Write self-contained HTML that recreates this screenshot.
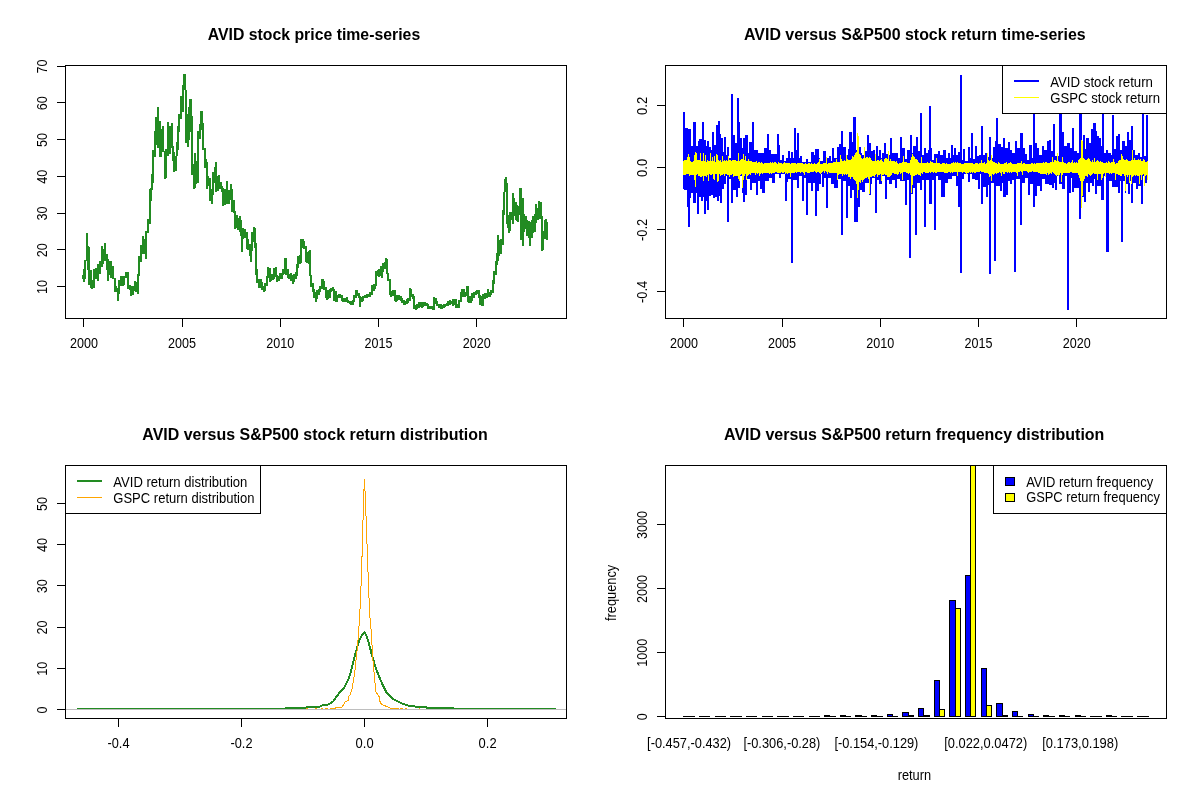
<!DOCTYPE html>
<html><head><meta charset="utf-8"><title>AVID versus S&amp;P500</title>
<style>
html,body{margin:0;padding:0;background:#fff;}
svg{display:block;}
text{font-family:"Liberation Sans",Arial,sans-serif;font-size:14px;fill:#000;}
text.t{font-size:15.94px;font-weight:bold;}
</style></head><body>
<svg width="1200" height="800" viewBox="0 0 1200 800" shape-rendering="crispEdges">
<rect width="1200" height="800" fill="#fff"/>
<path d="M82 275H84V279H82ZM83 269H85V282H83ZM84 260H86V279H84ZM86 233H88V261H86ZM87 246H89V270H87ZM88 247H90V285H88ZM90 270H92V288H90ZM91 280H93V289H91ZM93 269H95V288H93ZM95 268H97V279H95ZM97 264H99V281H97ZM99 261H101V274H99ZM101 246H103V267H101ZM102 249H104V264H102ZM104 243H106V261H104ZM106 254H108V270H106ZM107 259H109V281H107ZM109 261H111V275H109ZM110 261H112V278H110ZM112 266H114V279H112ZM114 278H116V292H114ZM115 286H117V292H115ZM117 288H119V301H117ZM118 280H120V294H118ZM120 276H122V286H120ZM122 276H124V286H122ZM123 276H125V285H123ZM125 272H127V278H125ZM127 272H129V289H127ZM129 285H131V290H129ZM130 286H132V296H130ZM132 286H134V295H132ZM134 281H136V291H134ZM135 282H137V292H135ZM137 274H139V294H137ZM138 256H140V276H138ZM140 245H142V262H140ZM142 236H144V254H142ZM144 239H146V254H144ZM145 231H147V259H145ZM147 219H149V233H147ZM149 189H151V224H149ZM150 188H152V201H150ZM151 174H153V190H151ZM152 150H154V183H152ZM154 131H156V157H154ZM155 117H157V145H155ZM157 107H159V148H157ZM159 121H161V157H159ZM160 129H162V157H160ZM162 126H164V152H162ZM164 151H166V179H164ZM165 149H167V178H165ZM167 122H169V156H167ZM169 126H171V154H169ZM171 123H173V148H171ZM172 146H174V161H172ZM173 152H175V172H173ZM175 156H177V171H175ZM176 142H178V156H176ZM177 126H179V150H177ZM178 114H180V132H178ZM180 96H182V119H180ZM182 85H184V112H182ZM183 74H185V90H183ZM184 74H186V90H184ZM185 90H187V143H185ZM187 114H189V147H187ZM188 107H190V140H188ZM189 99H192V132H189ZM191 116H193V175H191ZM193 164H195V189H193ZM194 153H196V188H194ZM195 161H197V184H195ZM197 131H199V183H197ZM199 124H201V139H199ZM200 111H203V130H200ZM202 123H204V150H202ZM204 148H206V168H204ZM205 159H207V168H205ZM206 162H208V189H206ZM207 176H209V186H207ZM209 178H211V201H209ZM211 189H213V204H211ZM212 172H214V195H212ZM214 167H216V183H214ZM215 162H217V192H215ZM217 176H219V191H217ZM218 175H220V189H218ZM220 182H222V189H220ZM221 186H223V192H221ZM222 188H224V206H222ZM224 189H226V205H224ZM226 181H228V204H226ZM227 194H229V204H227ZM228 190H230V204H228ZM230 184H232V200H230ZM231 189H233V212H231ZM233 200H235V213H233ZM234 211H236V229H234ZM236 215H238V228H236ZM237 218H239V230H237ZM239 216H241V232H239ZM240 220H242V236H240ZM241 228H243V252H241ZM242 228H244V239H242ZM244 229H246V238H244ZM246 232H248V249H246ZM247 239H249V250H247ZM249 244H251V256H249ZM250 249H252V262H250ZM251 232H253V251H251ZM253 227H255V242H253ZM254 228H256V248H254ZM255 243H257V275H255ZM256 269H258V283H256ZM258 279H260V288H258ZM260 279H262V288H260ZM261 282H263V290H261ZM263 286H265V292H263ZM264 283H266V291H264ZM266 276H268V286H266ZM267 267H269V278H267ZM269 268H271V282H269ZM270 274H272V281H270ZM272 274H274V280H272ZM273 268H275V279H273ZM275 267H277V277H275ZM276 275H278V282H276ZM278 276H280V281H278ZM279 273H281V279H279ZM281 273H283V279H281ZM282 269H284V275H282ZM284 258H286V274H284ZM285 258H287V275H285ZM287 269H289V278H287ZM288 274H290V279H288ZM290 273H292V281H290ZM292 275H294V284H292ZM293 274H295V282H293ZM295 272H297V279H295ZM296 264H298V276H296ZM297 256H299V268H297ZM299 255H301V264H299ZM300 239H302V263H300ZM302 239H304V248H302ZM303 241H305V249H303ZM305 246H307V262H305ZM306 252H308V263H306ZM308 251H310V264H308ZM309 250H311V276H309ZM310 275H312V287H310ZM312 283H314V292H312ZM313 289H315V298H313ZM315 292H317V302H315ZM316 290H318V299H316ZM318 289H320V295H318ZM319 286H321V292H319ZM321 279H323V289H321ZM322 279H324V287H322ZM323 281H325V290H323ZM325 287H327V298H325ZM326 293H328V300H326ZM327 290H329V299H327ZM329 289H331V298H329ZM330 288H332V292H330ZM332 287H334V291H332ZM333 289H335V301H333ZM335 291H337V302H335ZM336 295H338V302H336ZM338 294H340V298H338ZM339 294H341V298H339ZM341 295H343V301H341ZM342 298H344V302H342ZM344 298H346V302H344ZM346 297H348V302H346ZM347 300H349V303H347ZM349 301H351V304H349ZM350 301H352V305H350ZM352 300H354V305H352ZM353 295H355V302H353ZM355 290H357V298H355ZM356 290H358V296H356ZM358 293H360V298H358ZM359 296H361V307H359ZM361 297H363V302H361ZM362 296H364V301H362ZM364 295H366V298H364ZM366 294H368V298H366ZM367 294H369V297H367ZM369 292H371V297H369ZM371 285H373V295H371ZM373 284H375V291H373ZM374 284H376V289H374ZM375 271H377V286H375ZM377 270H379V276H377ZM378 269H380V277H378ZM380 266H382V276H380ZM381 266H383V278H381ZM382 263H384V272H382ZM384 262H386V269H384ZM385 258H387V269H385ZM386 259H388V274H386ZM387 273H389V281H387ZM389 279H391V295H389ZM390 291H392V297H390ZM392 290H394V296H392ZM394 290H396V301H394ZM395 296H397V302H395ZM396 295H398V301H396ZM398 295H400V300H398ZM400 296H402V301H400ZM401 298H403V303H401ZM403 300H405V305H403ZM404 301H406V305H404ZM406 299H408V304H406ZM407 298H409V303H407ZM409 288H411V301H409ZM410 289H412V297H410ZM412 294H414V299H412ZM413 296H415V309H413ZM415 305H417V310H415ZM416 304H418V309H416ZM418 302H420V308H418ZM419 302H421V307H419ZM421 302H423V308H421ZM422 302H424V307H422ZM424 302H426V306H424ZM426 303H428V306H426ZM427 304H429V309H427ZM429 306H431V309H429ZM430 306H432V309H430ZM432 306H434V310H432ZM433 297H435V310H433ZM435 298H437V304H435ZM436 301H438V306H436ZM438 304H440V308H438ZM440 304H442V309H440ZM441 305H443V309H441ZM443 304H445V308H443ZM444 304H446V307H444ZM446 303H448V306H446ZM447 301H449V306H447ZM449 300H451V305H449ZM451 301H453V304H451ZM452 299H454V306H452ZM454 299H456V305H454ZM455 299H457V308H455ZM457 304H459V308H457ZM458 300H460V308H458ZM460 292H462V302H460ZM461 289H463V297H461ZM463 289H465V297H463ZM464 292H466V297H464ZM466 286H468V296H466ZM467 286H469V302H467ZM468 296H470V303H468ZM470 296H472V303H470ZM471 293H473V301H471ZM473 292H475V298H473ZM475 291H477V295H475ZM476 290H478V294H476ZM478 290H480V298H478ZM479 295H481V305H479ZM481 296H483V306H481ZM482 294H484V306H482ZM484 293H486V299H484ZM486 293H488V298H486ZM487 289H489V297H487ZM489 292H491V297H489ZM490 290H492V295H490ZM492 280H494V293H492ZM493 271H495V284H493ZM495 261H497V275H495ZM496 253H498V265H496ZM497 235H499V261H497ZM498 240H500V256H498ZM500 239H502V254H500ZM502 210H504V245H502ZM503 192H505V215H503ZM504 179H506V192H504ZM505 177H507V192H505ZM506 183H508V224H506ZM507 215H509V228H507ZM508 216H510V233H508ZM509 212H511V231H509ZM510 212H512V220H510ZM512 193H514V224H512ZM513 198H515V216H513ZM515 202H517V220H515ZM516 205H518V221H516ZM517 206H519V222H517ZM519 188H521V215H519ZM520 188H522V240H520ZM522 198H524V246H522ZM523 214H525V232H523ZM525 216H527V229H525ZM526 220H528V236H526ZM528 221H530V238H528ZM529 222H531V246H529ZM531 220H533V238H531ZM532 216H534V233H532ZM534 214H536V232H534ZM535 204H537V223H535ZM537 208H539V220H537ZM538 201H540V219H538ZM540 202H542V219H540ZM541 216H543V251H541ZM542 231H544V250H542ZM544 220H546V239H544ZM545 219H547V239H545ZM546 222H548V240H546Z" fill="#228B22"/>
<rect x="65.5" y="65.5" width="501" height="253" fill="none" stroke="#000"/>
<text class="t" x="313.95" y="39.7" text-anchor="middle" textLength="212.5" lengthAdjust="spacingAndGlyphs">AVID stock price time-series</text>
<path d="M83.5 318.5H476.5M83.5 318.5v8.5M182.5 318.5v8.5M280.5 318.5v8.5M378.5 318.5v8.5M476.5 318.5v8.5" stroke="#000" fill="none"/>
<text x="83.9" y="347.8" text-anchor="middle" textLength="28" lengthAdjust="spacingAndGlyphs">2000</text>
<text x="182.1" y="347.8" text-anchor="middle" textLength="28" lengthAdjust="spacingAndGlyphs">2005</text>
<text x="280.3" y="347.8" text-anchor="middle" textLength="28" lengthAdjust="spacingAndGlyphs">2010</text>
<text x="378.5" y="347.8" text-anchor="middle" textLength="28" lengthAdjust="spacingAndGlyphs">2015</text>
<text x="476.7" y="347.8" text-anchor="middle" textLength="28" lengthAdjust="spacingAndGlyphs">2020</text>
<path d="M65.5 66.5V286.5M65.5 286.5h-8.5M65.5 249.5h-8.5M65.5 213.5h-8.5M65.5 176.5h-8.5M65.5 139.5h-8.5M65.5 102.5h-8.5M65.5 66.5h-8.5" stroke="#000" fill="none"/>
<text transform="translate(46.9 287) rotate(-90)" text-anchor="middle" textLength="14" lengthAdjust="spacingAndGlyphs">10</text>
<text transform="translate(46.9 250.25) rotate(-90)" text-anchor="middle" textLength="14" lengthAdjust="spacingAndGlyphs">20</text>
<text transform="translate(46.9 213.5) rotate(-90)" text-anchor="middle" textLength="14" lengthAdjust="spacingAndGlyphs">30</text>
<text transform="translate(46.9 176.75) rotate(-90)" text-anchor="middle" textLength="14" lengthAdjust="spacingAndGlyphs">40</text>
<text transform="translate(46.9 140) rotate(-90)" text-anchor="middle" textLength="14" lengthAdjust="spacingAndGlyphs">50</text>
<text transform="translate(46.9 103.25) rotate(-90)" text-anchor="middle" textLength="14" lengthAdjust="spacingAndGlyphs">60</text>
<text transform="translate(46.9 66.5) rotate(-90)" text-anchor="middle" textLength="14" lengthAdjust="spacingAndGlyphs">70</text>
<path d="M683 167.4V112.25H684V112.25H685V127.5H686V127.5H687V127.5H688V129.38H689V129.38H690V129.38H691V146.25H692V146.25H693V122.25H694V122.25H695V122.25H696V146.25H697V146.25H698V140.62H699V139.38H700V139.38H701V139.38H702V122.25H703V122.25H704V140H705V140H706V146.25H707V141H708V141H709V146.88H710V146.88H711V150H712V132.25H713V132.25H714V145H715V145H716V125H717V125H718V121.25H719V121.25H720V134.38H721V137.5H722V137.5H723V151.88H724V137.25H725V137.25H726V155H727V147.25H728V147.25H729V157.5H730V157.5H731V94.38H732V94.38H733V135.25H734V135.25H735V143.12H736V143.12H737V98.12H738V98.12H739V122.25H740V138.12H741V138.12H742V147.5H743V138.12H744V138.12H745V135.25H746V135.25H747V135.25H748V152.5H749V141.88H750V141.88H751V141.88H752V122.25H753V122.25H754V150.25H755V150.25H756V150.25H757V150.25H758V153.12H759V153.12H760V153.12H761V153.12H762V153.12H763V153.12H764V148.12H765V148.12H766V148.12H767V134H768V134H769V150H770V150H771V154.38H772V154.38H773V154.38H774V154.38H775V154.38H776V154.38H777V134H778V134H779V145H780V160H781V160H782V155H783V155H784V161.25H785V161.25H786V158.12H787V158.12H788V151.25H789V151.25H790V158.12H791V152.25H792V152.25H793V158.12H794V128.12H795V128.12H796V150H797V133.12H798V133.12H799V158.12H800V156.25H801V156.25H802V161.88H803V161.88H804V161.88H805V161.88H806V159.38H807V159.38H808V161.88H809V161.88H810V161.88H811V152.25H812V152.25H813V152.25H814V155H815V149.38H816V149.38H817V149.38H818V149.38H819V158.12H820V161.25H821V161.25H822V161.25H823V150.62H824V150.62H825V150.62H826V158.12H827V158.12H828V158.12H829V156.25H830V156.25H831V161.25H832V148.12H833V148.12H834V158.12H835V158.12H836V158.12H837V147.25H838V147.25H839V144.38H840V144.38H841V131.25H842V131.25H843V147.25H844V147.25H845V147.25H846V155H847V155H848V149.38H849V132.25H850V132.25H851V132.25H852V141.88H853V117.25H854V117.25H855V117.25H856V150H857V150H858V150H859V147.25H860V147.25H861V152.5H862V155H863V155H864V155H865V151.25H866V151.25H867V135.25H868V135.25H869V142.5H870V142.5H871V151.25H872V151.25H873V150H874V150H875V156.25H876V146.25H877V146.25H878V156.25H879V150H880V150H881V158.12H882V153.12H883V153.12H884V143.12H885V143.12H886V153.75H887V153.75H888V153.75H889V155H890V138.12H891V138.12H892V153.12H893V153.12H894V153.12H895V153.12H896V153.12H897V153.12H898V158.12H899V158.12H900V137.25H901V137.25H902V147.5H903V147.5H904V147.5H905V159.38H906V159.38H907V150.25H908V150.25H909V150.25H910V135.25H911V135.25H912V153.12H913V146.25H914V146.25H915V146.25H916V137.25H917V137.25H918V150.62H919V150.62H920V113.12H921V113.12H922V155H923V155H924V148.12H925V148.12H926V153.12H927V153.12H928V150H929V106.25H930V106.25H931V148.12H932V160H933V160H934V154.38H935V154.38H936V154.38H937V154.38H938V151.25H939V151.25H940V155H941V155H942V155H943V150.25H944V150.25H945V150.25H946V158.12H947V158.12H948V153.12H949V153.12H950V158.12H951V145H952V145H953V155H954V148.12H955V148.12H956V155H957V155H958V152.25H959V152.25H960V74.75H961V74.75H962V160H963V149.38H964V149.38H965V161.25H966V161.25H967V161.25H968V147.25H969V147.25H970V158.12H971V133.12H972V133.12H973V158.75H974V158.75H975V146.25H976V146.25H977V156.25H978V156.25H979V155H980V155H981V126.25H982V126.25H983V155H984V155H985V153.12H986V153.12H987V156.88H988V156.88H989V137.25H990V137.25H991V158.12H992V158.12H993V147.25H994V147.25H995V141.25H996V118.12H997V118.12H998V144.38H999V144.38H1000V144.38H1001V147.25H1002V147.25H1003V138.12H1004V138.12H1005V148.12H1006V148.12H1007V148.12H1008V142.25H1009V142.25H1010V150H1011V150H1012V153.12H1013V153.12H1014V153.12H1015V141.25H1016V141.25H1017V148.12H1018V148.12H1019V148.12H1020V133.12H1021V133.12H1022V133.12H1023V148.12H1024V148.12H1025V154.38H1026V154.38H1027V160H1028V160H1029V145.25H1030V145.25H1031V145.25H1032V158.12H1033V102.5H1034V102.5H1035V143.12H1036V143.12H1037V148.12H1038V148.12H1039V155H1040V155H1041V155H1042V146.25H1043V146.25H1044V150H1045V150H1046V150H1047V141.25H1048V141.25H1049V140H1050V140H1051V151.25H1052V151.25H1053V124H1054V124H1055V156.25H1056V156.25H1057V156.25H1058V156.25H1059V105H1060V105H1061V105H1062V132.25H1063V132.25H1064V146.25H1065V146.25H1066V146.25H1067V143.12H1068V143.12H1069V143.12H1070V148.12H1071V148.12H1072V128.12H1073V128.12H1074V150.62H1075V150.62H1076V150.62H1077V152.5H1078V152.5H1079V97.5H1080V97.5H1081V97.5H1082V150H1083V135.25H1084V135.25H1085V148.75H1086V138.12H1087V138.12H1088V138.12H1089V143.12H1090V143.12H1091V129.38H1092V129.38H1093V123.12H1094V123.12H1095V123.12H1096V131.25H1097V135.62H1098V135.62H1099V138.12H1100V138.12H1101V146.25H1102V106.25H1103V106.25H1104V153.12H1105V153.12H1106V150H1107V150H1108V153.12H1109V153.12H1110V153.12H1111V155H1112V115H1113V115H1114V149.38H1115V149.38H1116V136H1117V136H1118V133.75H1119V133.75H1120V150H1121V150H1122V140.62H1123V140.62H1124V140.62H1125V145.62H1126V145.62H1127V132.25H1128V132.25H1129V140H1130V140H1131V126.25H1132V126.25H1133V150H1134V150H1135V155H1136V155H1137V155H1138V153.12H1139V153.12H1140V156.88H1141V156.88H1142V108.75H1143V108.75H1144V156.25H1145V156.25H1146V115H1147V115H1148V167.4V176.25H1147V182.5H1146V182.5H1145V176.25H1144V176.25H1143V203.75H1142V203.75H1141V185.62H1140V185.62H1139V185.62H1138V188.75H1137V188.75H1136V182.5H1135V182.5H1134V182.5H1133V202.75H1132V202.75H1131V180.62H1130V193.75H1129V193.75H1128V183.75H1127V183.75H1126V193.12H1125V180.62H1124V180.62H1123V241.88H1122V241.88H1121V180.62H1120V192.75H1119V192.75H1118V186.88H1117V186.88H1116V186.88H1115V186.88H1114V186.88H1113V186.88H1112V180.62H1111V180.62H1110V180.62H1109V251.88H1108V251.88H1107V251.88H1106V176.25H1105V176.25H1104V199.75H1103V199.75H1102V199.75H1101V185.62H1100V185.62H1099V185.62H1098V185.62H1097V193.75H1096V193.75H1095V178.75H1094V185.62H1093V185.62H1092V182.5H1091V182.5H1090V191.88H1089V191.88H1088V182.5H1087V182.5H1086V201.88H1085V201.88H1084V196.88H1083V196.88H1082V196.88H1081V218.75H1080V218.75H1079V187.5H1078V187.5H1077V187.5H1076V187.5H1075V187.5H1074V191.88H1073V191.88H1072V177.5H1071V192.75H1070V192.75H1069V309.75H1068V309.75H1067V176.25H1066V176.25H1065V188.75H1064V188.75H1063V188.75H1062V184.38H1061V184.38H1060V184.38H1059V176.25H1058V176.25H1057V189.75H1056V189.75H1055V182.5H1054V187.75H1053V187.75H1052V185H1051V185H1050V185H1049V183.75H1048V183.75H1047V183.75H1046V183.75H1045V178.75H1044V178.75H1043V178.75H1042V190.62H1041V190.62H1040V185.62H1039V185.62H1038V185.62H1037V195.62H1036V195.62H1035V206.88H1034V206.88H1033V184.38H1032V184.38H1031V184.38H1030V194.75H1029V194.75H1028V177.5H1027V177.5H1026V177.5H1025V182.5H1024V182.5H1023V182.5H1022V224.75H1021V224.75H1020V178.75H1019V178.75H1018V178.75H1017V178.75H1016V271.88H1015V271.88H1014V180H1013V180H1012V183.75H1011V183.75H1010V181.25H1009V181.25H1008V194.75H1007V194.75H1006V196.88H1005V196.88H1004V196.88H1003V182.5H1002V190.62H1001V190.62H1000V185.62H999V185.62H998V185.62H997V185.62H996V260.62H995V260.62H994V182.5H993V182.5H992V182.5H991V273.75H990V273.75H989V185H988V196.88H987V196.88H986V186.88H985V186.88H984V186.88H983V203.75H982V203.75H981V173.75H980V188.75H979V188.75H978V180H977V180H976V180H975V178.75H974V178.75H973V178.75H972V173.75H971V173.75H970V181.88H969V181.88H968V173.75H967V173.75H966V173.75H965V173.75H964V179.38H963V179.38H962V272.75H961V272.75H960V206.88H959V206.88H958V185.62H957V185.62H956V176.25H955V176.25H954V176.25H953V176.25H952V179.38H951V179.38H950V179.38H949V179.38H948V182.5H947V182.5H946V182.5H945V196.88H944V196.88H943V196.88H942V196.88H941V180H940V180H939V180H938V176.25H937V176.25H936V229.75H935V229.75H934V180H933V180H932V203.75H931V203.75H930V203.75H929V180H928V180H927V180H926V226.88H925V226.88H924V180H923V180H922V189.75H921V189.75H920V182.5H919V182.5H918V182.5H917V234.75H916V234.75H915V187.5H914V187.5H913V193.75H912V193.75H911V257.75H910V257.75H909V180H908V180H907V204.75H906V204.75H905V181.25H904V181.25H903V181.25H902V181.25H901V181.25H900V178.75H899V178.75H898V178.75H897V187.75H896V187.75H895V180H894V180H893V180H892V183.75H891V183.75H890V183.75H889V180H888V180H887V198.75H886V198.75H885V176.25H884V176.25H883V176.25H882V183.75H881V183.75H880V183.75H879V180H878V180H877V212.5H876V212.5H875V177.5H874V177.5H873V177.5H872V183.75H871V194.75H870V194.75H869V182.5H868V182.5H867V182.5H866V182.5H865V191.88H864V191.88H863V191.88H862V190H861V190H860V207.25H859V207.25H858V221.5H857V221.5H856V221.5H855V221.5H854V190H853V190H852V197.5H851V197.5H850V185.62H849V185.62H848V217.75H847V217.75H846V180.62H845V180.62H844V180.62H843V234.75H842V234.75H841V178.75H840V178.75H839V178.75H838V187.75H837V187.75H836V187.75H835V187.75H834V183.75H833V183.75H832V183.75H831V177.5H830V177.5H829V177.5H828V207.75H827V207.75H826V177.5H825V177.5H824V186.88H823V186.88H822V173.75H821V183.75H820V183.75H819V191.25H818V191.25H817V215.62H816V215.62H815V182.5H814V182.5H813V191.25H812V191.25H811V182.5H810V182.5H809V182.5H808V214.75H807V214.75H806V177.5H805V177.5H804V200.62H803V200.62H802V176.25H801V176.25H800V176.25H799V187.75H798V187.75H797V180H796V180H795V180H794V180H793V263.25H792V263.25H791V178.75H790V178.75H789V178.75H788V181.88H787V200.62H786V200.62H785V173.75H784V173.75H783V173.75H782V173.75H781V177.5H780V177.5H779V173.75H778V173.75H777V173.75H776V173.75H775V182.75H774V182.75H773V182.75H772V177.5H771V177.5H770V177.5H769V180.62H768V180.62H767V180.62H766V180.62H765V192.75H764V192.75H763V192.75H762V188.75H761V188.75H760V180.62H759V180.62H758V194.75H757V194.75H756V183.12H755V183.12H754V183.12H753V183.12H752V189.75H751V189.75H750V178.75H749V178.75H748V178.75H747V194.75H746V194.75H745V201.88H744V201.88H743V193.12H742V176.25H741V176.25H740V187.5H739V187.5H738V196.88H737V196.88H736V190H735V190H734V190H733V202.5H732V202.5H731V178.75H730V178.75H729V221.88H728V221.88H727V176.25H726V183.75H725V183.75H724V188.75H723V188.75H722V202.75H721V202.75H720V196.25H719V200.62H718V200.62H717V196.88H716V196.88H715V197.5H714V197.5H713V195H712V195H711V196.25H710V196.25H709V209.75H708V209.75H707V200.62H706V213.75H705V213.75H704V196.88H703V200.62H702V200.62H701V196.88H700V196.88H699V213.75H698V213.75H697V193.12H696V202.5H695V202.5H694V202.5H693V193.12H692V193.12H691V197.5H690V226.88H689V226.88H688V206.88H687V190H686V190H685V190H684V188.75H683Z" fill="#0000FF" shape-rendering="crispEdges"/>
<path d="M683 167.4V161.43H684V160.36H685V160.4H686V160.49H687V157.27H688V153.5H689V156.81H690V161.03H691V161.91H692V162.25H693V160.91H694V155.24H695V152H696V153.29H697V159.66H698V159.64H699V159.93H700V152.83H701V160.64H702V161.22H703V153H704V161.48H705V155.43H706V161.93H707V160.44H708V161.22H709V160.77H710V153.18H711V160.56H712V157.41H713V160.95H714V155.87H715V162.17H716V153.7H717V155H718V160.37H719V160.94H720V159.83H721V161.69H722V155.83H723V161.39H724V160.24H725V160.98H726V160.21H727V161.01H728V155.68H729V159.54H730V160.15H731V160.55H732V159.5H733V159.84H734V159.51H735V160.32H736V160.63H737V161.42H738V152.54H739V160.95H740V160.38H741V158.99H742V159.3H743V153.57H744V159.63H745V156.45H746V161.37H747V161.17H748V159.16H749V161.23H750V161.27H751V160.92H752V162.31H753V162.39H754V161.62H755V161.53H756V161.13H757V162.58H758V162.07H759V161.64H760V162.94H761V162.15H762V162.52H763V163.67H764V162.56H765V162.98H766V163.31H767V162.53H768V163H769V163.25H770V161.79H771V162.51H772V162.33H773V162.74H774V162.14H775V162.4H776V162.98H777V163.55H778V162.47H779V162.56H780V162.77H781V163.44H782V163.78H783V163.34H784V162.35H785V162.65H786V163.08H787V163.29H788V162.68H789V163.11H790V163.62H791V163.03H792V163.03H793V163.08H794V163.36H795V163.09H796V163.54H797V163.24H798V162.5H799V162.8H800V163.09H801V163.2H802V163.01H803V164.07H804V163.89H805V162.83H806V164.13H807V164.39H808V163.22H809V163.04H810V163.6H811V163.27H812V164.48H813V164.45H814V163.18H815V163.87H816V163.59H817V163.1H818V162.35H819V159.03H820V164H821V163.63H822V163.86H823V162.81H824V163.03H825V163.02H826V157.25H827V163.56H828V162.99H829V162.92H830V163.14H831V162.52H832V163.15H833V162.48H834V162.41H835V162.34H836V159.37H837V161.78H838V162.01H839V161.92H840V155.09H841V158.82H842V160.54H843V161.02H844V159.8H845V160.72H846V155.41H847V159.34H848V160.11H849V159.92H850V160.19H851V158.71H852V155.95H853V157.34H854V155.21H855V152.67H856V152.04H857V133H858V136H859V154.16H860V154.89H861V158.41H862V159.15H863V157.95H864V146.5H865V157.94H866V157.05H867V157.31H868V158.11H869V157.33H870V158.36H871V159.85H872V160.98H873V160.75H874V161.1H875V153.77H876V160.67H877V159.66H878V159.61H879V160.67H880V159.99H881V159.46H882V161.36H883V161.64H884V159.13H885V157.78H886V157.71H887V159H888V150.6H889V160.64H890V158.98H891V161.35H892V161.05H893V161.18H894V161.14H895V161.85H896V161.03H897V162.92H898V163.66H899V162.85H900V162.66H901V162.83H902V161.98H903V155.97H904V162.22H905V162.03H906V162H907V162.59H908V162.8H909V163.03H910V159.78H911V156.57H912V153.8H913V155.86H914V157.49H915V158.88H916V158.97H917V160.42H918V161.98H919V162.76H920V162.76H921V156.73H922V162.86H923V162.83H924V162.83H925V163.28H926V162.6H927V161.99H928V162.6H929V162.92H930V161.42H931V162.12H932V161.85H933V163.28H934V163.44H935V163.02H936V157.98H937V163.48H938V163.37H939V162.62H940V163.64H941V163.61H942V163.46H943V163.46H944V162.7H945V163.67H946V162.91H947V163.65H948V163.73H949V163.63H950V163.85H951V162.76H952V163.42H953V162.21H954V163.37H955V162.34H956V162.57H957V162.3H958V163.26H959V163.47H960V163.47H961V163.59H962V163.55H963V163.55H964V163.06H965V163.28H966V163.12H967V162.73H968V163.04H969V162.98H970V163.47H971V163.27H972V163.08H973V163.78H974V163.9H975V162.99H976V163.14H977V163.38H978V163.75H979V163.23H980V162.71H981V160.41H982V163.16H983V163.35H984V162.39H985V163.65H986V162.76H987V152.7H988V160.22H989V161.13H990V159.69H991V155H992V160.8H993V161.64H994V161.91H995V163H996V163.08H997V163.57H998V162.36H999V163.14H1000V163.7H1001V163.53H1002V163.62H1003V163.71H1004V162.94H1005V163.11H1006V162.25H1007V163.76H1008V163.07H1009V163.36H1010V162.45H1011V162.83H1012V163.8H1013V163.79H1014V163.66H1015V163.96H1016V163.78H1017V163.21H1018V163.26H1019V162.81H1020V163.07H1021V161.4H1022V164H1023V163.34H1024V162.9H1025V163.94H1026V164.31H1027V164.44H1028V164.22H1029V163.67H1030V164.07H1031V162.84H1032V162.94H1033V163.64H1034V162.87H1035V163.96H1036V163.06H1037V163.42H1038V162.66H1039V163.13H1040V163H1041V162.72H1042V162.89H1043V161.91H1044V162.51H1045V162.45H1046V162.4H1047V162.94H1048V163.01H1049V163.03H1050V162.44H1051V162H1052V156.95H1053V161.89H1054V160.01H1055V159.87H1056V160.89H1057V152.5H1058V160.81H1059V161.64H1060V161.76H1061V162.14H1062V156.79H1063V161.85H1064V162.77H1065V162.53H1066V163.66H1067V163.42H1068V162H1069V161.97H1070V162.59H1071V161.92H1072V159.66H1073V162.59H1074V162.2H1075V162.62H1076V162.1H1077V162.83H1078V160.35H1079V159.04H1080V157.86H1081V139.5H1082V141H1083V158.37H1084V158.84H1085V159.93H1086V159.87H1087V158.83H1088V157.99H1089V159.18H1090V161.05H1091V161.88H1092V160.35H1093V161.87H1094V157.9H1095V162.22H1096V161.28H1097V160.16H1098V160.92H1099V161.67H1100V161.42H1101V161.7H1102V161.87H1103V162.6H1104V162.6H1105V162.8H1106V161.55H1107V162.5H1108V160.79H1109V161.69H1110V162.87H1111V161.88H1112V162.24H1113V159.3H1114V161.82H1115V163.58H1116V162.95H1117V162.59H1118V161.16H1119V159.74H1120V160.47H1121V153.75H1122V155.89H1123V159.43H1124V160.09H1125V159.52H1126V159.17H1127V159.85H1128V160.76H1129V160.53H1130V160.77H1131V159.58H1132V150H1133V159.57H1134V158.4H1135V159.64H1136V159.87H1137V160.03H1138V159.27H1139V159.93H1140V159.45H1141V160.73H1142V160.93H1143V159.29H1144V160.01H1145V161.71H1146V162.26H1147V161.42H1148V167.4V179.87H1147V175.31H1146V176.35H1145V185.62H1144V174.13H1143V174.5H1142V179.89H1141V175.03H1140V183.68H1139V176.31H1138V176.11H1137V174.68H1136V176.03H1135V175.15H1134V175.61H1133V177H1132V183.8H1131V174.84H1130V183.16H1129V175.24H1128V177.17H1127V175.07H1126V190.75H1125V176.14H1124V174.22H1123V174.04H1122V175.56H1121V175.91H1120V174.51H1119V174.76H1118V173.93H1117V173.51H1116V180.24H1115V173.06H1114V173.46H1113V173.49H1112V173.91H1111V172.82H1110V174.16H1109V173H1108V173.4H1107V172.93H1106V176.9H1105V173.48H1104V173.5H1103V178.22H1102V179.69H1101V174.01H1100V173.8H1099V174.09H1098V179.81H1097V173.59H1096V174.28H1095V173.6H1094V173.31H1093V173.68H1092V175.22H1091V175.84H1090V175.32H1089V173.9H1088V176.51H1087V176.46H1086V176.2H1085V179.09H1084V180.76H1083V196H1082V208H1081V181.12H1080V177.75H1079V174.83H1078V173.18H1077V173.02H1076V172.75H1075V173.37H1074V172.51H1073V173.35H1072V171.96H1071V172.02H1070V172.5H1069V173.45H1068V172.67H1067V172.59H1066V173.12H1065V172.72H1064V173.12H1063V174.54H1062V181.72H1061V173.4H1060V174.66H1059V176.03H1058V175.4H1057V175.7H1056V175.46H1055V174.36H1054V173.37H1053V172.17H1052V173.93H1051V172.91H1050V173.66H1049V174.73H1048V173.48H1047V174.57H1046V174.42H1045V173.54H1044V174.46H1043V174.16H1042V174.18H1041V173.83H1040V172.61H1039V172.61H1038V171.81H1037V171.95H1036V172.37H1035V171.66H1034V171.56H1033V171.27H1032V172.08H1031V171.83H1030V172.45H1029V173H1028V171.82H1027V171.22H1026V171.09H1025V171.02H1024V171.42H1023V174.53H1022V172.09H1021V171.48H1020V171.64H1019V171.9H1018V175.99H1017V172.8H1016V171.97H1015V172.4H1014V172.4H1013V172.48H1012V172.52H1011V172.3H1010V173.14H1009V172.41H1008V172.53H1007V172.13H1006V172.32H1005V173.57H1004V173.74H1003V172.27H1002V176.49H1001V173.02H1000V172.49H999V173.02H998V172.84H997V173.92H996V172.71H995V174.05H994V174.76H993V173.72H992V180.6H991V175.77H990V176.61H989V174.05H988V173.1H987V173.23H986V172.86H985V172.52H984V171.74H983V172.13H982V171.63H981V171.39H980V172.38H979V172.46H978V171.89H977V172.37H976V172.63H975V172.7H974V172.33H973V172.88H972V172.16H971V172.69H970V171.67H969V173.08H968V172.5H967V174.44H966V172.73H965V172.29H964V171.72H963V173H962V171.97H961V172.14H960V172.14H959V171.52H958V175.75H957V171.76H956V171.96H955V172.45H954V172.37H953V172.61H952V172.29H951V172.97H950V172.21H949V172.05H948V172.77H947V172.98H946V173.37H945V173.13H944V172.46H943V171.89H942V171.65H941V171.69H940V171.89H939V171.97H938V172.16H937V172.68H936V173.31H935V172.22H934V172.86H933V172.09H932V171.71H931V172.79H930V172.41H929V172.67H928V172.88H927V173.06H926V172.72H925V172.36H924V172.33H923V173.7H922V172.85H921V176.28H920V175.28H919V174.85H918V174.36H917V174.88H916V175.1H915V176.05H914V176.4H913V185H912V193H911V174.8H910V173.07H909V173.51H908V173.03H907V172.82H906V172.45H905V172.43H904V172.26H903V180.17H902V172.94H901V174.03H900V172.34H899V174.2H898V174.72H897V174H896V173.92H895V174.05H894V172.82H893V173.26H892V174.87H891V175.98H890V177.07H889V177.24H888V176.96H887V174.75H886V175.14H885V173.64H884V175.19H883V175.23H882V180.83H881V174.11H880V175.4H879V175.1H878V177.13H877V174.21H876V174.82H875V176.77H874V176.36H873V175.86H872V177.38H871V176.88H870V194.03H869V178.57H868V177.34H867V178.22H866V177.76H865V179.08H864V180.29H863V182.05H862V180.39H861V182.54H860V182.21H859V190H858V197.5H857V184.25H856V181.09H855V179.72H854V178.64H853V177.4H852V176.73H851V178.68H850V176.88H849V176.94H848V174.26H847V175.17H846V174.14H845V175.37H844V174.39H843V175.68H842V173.73H841V173.91H840V173.6H839V175.19H838V180.03H837V173.25H836V173.21H835V172.88H834V172.86H833V172.63H832V173.14H831V173.28H830V172.78H829V172.17H828V173.56H827V172.27H826V171.44H825V172.73H824V171.46H823V171.9H822V172.82H821V173.52H820V173.46H819V172.14H818V171.99H817V173.31H816V172.41H815V171.3H814V171.77H813V172.02H812V172.2H811V172.32H810V172.63H809V172.69H808V173.39H807V172.31H806V172.45H805V174.67H804V172.55H803V172.11H802V171.99H801V172.51H800V171.69H799V172.24H798V172.3H797V172.85H796V172.28H795V172.9H794V172.85H793V173.32H792V173.37H791V177.36H790V172.67H789V172.71H788V173.92H787V173.05H786V173.51H785V171.88H784V172.75H783V172.58H782V172.45H781V173.16H780V172.77H779V173.2H778V172.74H777V172.07H776V172.04H775V172.65H774V172.5H773V172.68H772V173.57H771V172.59H770V173.62H769V172.9H768V172.76H767V173.25H766V172.68H765V172.86H764V172.8H763V173.71H762V172.9H761V173.97H760V176.18H759V172.62H758V173.57H757V173.05H756V174.61H755V173.22H754V172.92H753V172.59H752V173.4H751V174.68H750V174.34H749V174.63H748V175.57H747V179.97H746V174.27H745V176.13H744V180.36H743V188.2H742V174.32H741V175.24H740V180.97H739V178.69H738V175.76H737V175.63H736V175.84H735V175.5H734V177.3H733V174.21H732V175.25H731V175.22H730V176.57H729V174.98H728V175.21H727V174.2H726V173.75H725V175.58H724V173.98H723V175.41H722V174.82H721V175.71H720V174.44H719V181.14H718V182H717V173.77H716V174.29H715V179.62H714V179.12H713V173.85H712V175.39H711V174.86H710V174.39H709V181H708V174.9H707V176.51H706V175.81H705V176.25H704V181H703V175.73H702V176.75H701V176.67H700V176.26H699V175.51H698V173.51H697V174.52H696V187H695V180.33H694V175.43H693V175.32H692V175.49H691V174.95H690V175.8H689V173.95H688V174.13H687V174.46H686V174.6H685V175.19H684V174.52H683Z" fill="#FFFF00" shape-rendering="crispEdges"/>
<rect x="1002.5" y="65.5" width="164" height="48" fill="#fff" stroke="#000"/>
<path d="M1014 81H1039" stroke="#0000FF" stroke-width="2"/>
<path d="M1014 97.5H1039" stroke="#FFFF00" stroke-width="1"/>
<text x="1050.2" y="86.7" textLength="102.8" lengthAdjust="spacingAndGlyphs">AVID stock return</text>
<text x="1050.2" y="102.5" textLength="109.8" lengthAdjust="spacingAndGlyphs">GSPC stock return</text>
<rect x="665.5" y="65.5" width="501" height="253" fill="none" stroke="#000"/>
<text class="t" x="914.85" y="39.7" text-anchor="middle" textLength="341.7" lengthAdjust="spacingAndGlyphs">AVID versus S&amp;P500 stock return time-series</text>
<path d="M683.5 318.5H1076.5M683.5 318.5v8.5M782.5 318.5v8.5M880.5 318.5v8.5M978.5 318.5v8.5M1076.5 318.5v8.5" stroke="#000" fill="none"/>
<text x="683.9" y="347.8" text-anchor="middle" textLength="28" lengthAdjust="spacingAndGlyphs">2000</text>
<text x="782.1" y="347.8" text-anchor="middle" textLength="28" lengthAdjust="spacingAndGlyphs">2005</text>
<text x="880.3" y="347.8" text-anchor="middle" textLength="28" lengthAdjust="spacingAndGlyphs">2010</text>
<text x="978.5" y="347.8" text-anchor="middle" textLength="28" lengthAdjust="spacingAndGlyphs">2015</text>
<text x="1076.7" y="347.8" text-anchor="middle" textLength="28" lengthAdjust="spacingAndGlyphs">2020</text>
<path d="M665.5 105.5V291.5M665.5 105.5h-8.5M665.5 167.5h-8.5M665.5 229.5h-8.5M665.5 291.5h-8.5" stroke="#000" fill="none"/>
<text transform="translate(646.9 105.88) rotate(-90)" text-anchor="middle" textLength="18" lengthAdjust="spacingAndGlyphs">0.2</text>
<text transform="translate(646.9 167.9) rotate(-90)" text-anchor="middle" textLength="18" lengthAdjust="spacingAndGlyphs">0.0</text>
<text transform="translate(646.9 229.92) rotate(-90)" text-anchor="middle" textLength="22" lengthAdjust="spacingAndGlyphs">-0.2</text>
<text transform="translate(646.9 291.94) rotate(-90)" text-anchor="middle" textLength="22" lengthAdjust="spacingAndGlyphs">-0.4</text>
<polyline points="78,709 284.5,709 285.5,708 305,708 306.25,707.4 320,706.5 322.5,705.25 327.5,704.75 330,703.5 333.1,701.5 336.25,696.9 340,691.9 344.4,687.5 347.5,681.25 350,675 352.5,665 355,655 357.5,646.25 360,638.75 362.5,634 364.75,632.5 366.25,635.6 368.1,640.6 370,647.5 371.9,655 373.75,661.25 376.25,669.4 380,678.75 383.1,685.6 386.25,691.9 390,696.25 393.75,699.4 397.5,701.25 402.5,703.75 407.5,705.4 415,706.5 420,707.25 426.25,707.3 427.5,708 453.5,708 454.5,709 555.2,709" fill="none" stroke="#228B22" stroke-width="2" stroke-linejoin="round" stroke-linecap="round"/>
<polyline points="329.75,708.5 335.4,708.5 335.6,707.5 341.75,707.5 343.25,705.25 345.5,701.5 348.1,700.4 348.5,696.25 350.4,694.75 351.1,691.75 352.25,688.75 352.6,685 353.4,681.25 354.1,676 354.9,671.5 355.6,663.75 356.9,652.5 358.1,638.75 358.75,628.75 359.4,621 360.4,602 361.4,577 362.4,544 363.4,505 364.4,479 365.4,498 366.4,527 367.4,554 368.4,583 369.4,608 370.4,624 371.25,631.25 371.9,642.5 372.5,653.75 373.1,662.5 373.6,670 374.4,674.5 374.75,681.25 375.5,686.5 375.9,691.75 377.75,694.75 379.25,697 380,701.5 381.1,703.75 383,705.25 385.25,705.6 386.4,706.9 389,707.1 390.9,708.5 399,708.5" fill="none" stroke="#FFA500" stroke-width="1" stroke-linejoin="round"/>
<path d="M306 708.5h1.5M315 708.5h2M321 708.5h1.5M325 708.5h2.5M400 708.5h3M405 708.5h2M419 708.5h1" stroke="#FFA500" fill="none"/>
<path d="M65.5 709.5H566.5" stroke="#BEBEBE" fill="none"/>
<rect x="65.5" y="465.5" width="195" height="48" fill="#fff" stroke="#000"/>
<path d="M77 481H102" stroke="#228B22" stroke-width="2"/>
<path d="M77 497.5H102" stroke="#FFA500" stroke-width="1"/>
<text x="113.3" y="486.6" textLength="134.1" lengthAdjust="spacingAndGlyphs">AVID return distribution</text>
<text x="113.3" y="502.6" textLength="141.1" lengthAdjust="spacingAndGlyphs">GSPC return distribution</text>
<rect x="65.5" y="465.5" width="501" height="253" fill="none" stroke="#000"/>
<text class="t" x="315" y="439.7" text-anchor="middle" textLength="345.4" lengthAdjust="spacingAndGlyphs">AVID versus S&amp;P500 stock return distribution</text>
<path d="M118.5 718.5H487.5M118.5 718.5v8.5M241.5 718.5v8.5M364.5 718.5v8.5M487.5 718.5v8.5" stroke="#000" fill="none"/>
<text x="118.5" y="747.8" text-anchor="middle" textLength="22" lengthAdjust="spacingAndGlyphs">-0.4</text>
<text x="241.5" y="747.8" text-anchor="middle" textLength="22" lengthAdjust="spacingAndGlyphs">-0.2</text>
<text x="364.6" y="747.8" text-anchor="middle" textLength="18" lengthAdjust="spacingAndGlyphs">0.0</text>
<text x="487.6" y="747.8" text-anchor="middle" textLength="18" lengthAdjust="spacingAndGlyphs">0.2</text>
<path d="M65.5 503.5V709.5M65.5 709.5h-8.5M65.5 668.5h-8.5M65.5 627.5h-8.5M65.5 585.5h-8.5M65.5 544.5h-8.5M65.5 503.5h-8.5" stroke="#000" fill="none"/>
<text transform="translate(46.9 709.9) rotate(-90)" text-anchor="middle" textLength="7" lengthAdjust="spacingAndGlyphs">0</text>
<text transform="translate(46.9 668.7) rotate(-90)" text-anchor="middle" textLength="14" lengthAdjust="spacingAndGlyphs">10</text>
<text transform="translate(46.9 627.5) rotate(-90)" text-anchor="middle" textLength="14" lengthAdjust="spacingAndGlyphs">20</text>
<text transform="translate(46.9 586.3) rotate(-90)" text-anchor="middle" textLength="14" lengthAdjust="spacingAndGlyphs">30</text>
<text transform="translate(46.9 545.1) rotate(-90)" text-anchor="middle" textLength="14" lengthAdjust="spacingAndGlyphs">40</text>
<text transform="translate(46.9 503.9) rotate(-90)" text-anchor="middle" textLength="14" lengthAdjust="spacingAndGlyphs">50</text>
<clipPath id="c4"><rect x="665.5" y="465.5" width="501" height="253"/></clipPath>
<g clip-path="url(#c4)" stroke="#000"><path d="M683 716.5H690"/><path d="M689 716.5H695"/><path d="M699 716.5H705"/><path d="M704 716.5H710"/><path d="M715 716.5H721"/><path d="M720 716.5H726"/><path d="M730 716.5H737"/><path d="M736 716.5H742"/><path d="M746 716.5H752"/><path d="M751 716.5H757"/><path d="M762 716.5H768"/><path d="M767 716.5H773"/><path d="M777 716.5H783"/><path d="M782 716.5H789"/><path d="M793 716.5H799"/><path d="M798 716.5H804"/><path d="M809 716.5H815"/><path d="M814 716.5H820"/><rect x="824.5" y="715.5" width="5" height="1" fill="#0000FF"/><path d="M829 716.5H836"/><rect x="840.5" y="715.5" width="5" height="1" fill="#0000FF"/><path d="M845 716.5H851"/><rect x="855.5" y="715.5" width="6" height="1" fill="#0000FF"/><path d="M861 716.5H867"/><rect x="871.5" y="715.5" width="5" height="1" fill="#0000FF"/><path d="M876 716.5H883"/><rect x="887.5" y="714.5" width="5" height="2" fill="#0000FF"/><path d="M892 716.5H898"/><rect x="902.5" y="712.5" width="6" height="4" fill="#0000FF"/><rect x="908.5" y="715.5" width="5" height="1" fill="#FFFF00"/><rect x="918.5" y="708.5" width="5" height="8" fill="#0000FF"/><rect x="923.5" y="715.5" width="6" height="1" fill="#FFFF00"/><rect x="934.5" y="680.5" width="5" height="36" fill="#0000FF"/><rect x="939.5" y="709.5" width="5" height="7" fill="#FFFF00"/><rect x="949.5" y="600.5" width="6" height="116" fill="#0000FF"/><rect x="955.5" y="608.5" width="5" height="108" fill="#FFFF00"/><rect x="965.5" y="575.5" width="5" height="141" fill="#0000FF"/><rect x="970.5" y="396.5" width="5" height="320" fill="#FFFF00"/><rect x="981.5" y="668.5" width="5" height="48" fill="#0000FF"/><rect x="986.5" y="705.5" width="5" height="11" fill="#FFFF00"/><rect x="996.5" y="703.5" width="6" height="13" fill="#0000FF"/><rect x="1002.5" y="715.5" width="5" height="1" fill="#FFFF00"/><rect x="1012.5" y="711.5" width="5" height="5" fill="#0000FF"/><path d="M1017 716.5H1023"/><rect x="1028.5" y="714.5" width="5" height="2" fill="#0000FF"/><path d="M1033 716.5H1039"/><rect x="1043.5" y="715.5" width="5" height="1" fill="#0000FF"/><path d="M1048 716.5H1055"/><rect x="1059.5" y="715.5" width="5" height="1" fill="#0000FF"/><path d="M1064 716.5H1070"/><rect x="1075.5" y="715.5" width="5" height="1" fill="#0000FF"/><path d="M1080 716.5H1086"/><path d="M1090 716.5H1096"/><path d="M1095 716.5H1102"/><rect x="1106.5" y="715.5" width="5" height="1" fill="#0000FF"/><path d="M1111 716.5H1117"/><path d="M1121 716.5H1128"/><path d="M1127 716.5H1133"/><path d="M1137 716.5H1143"/><path d="M1142 716.5H1149"/></g>
<rect x="993.5" y="465.5" width="173" height="48" fill="#fff" stroke="#000"/>
<rect x="1005.5" y="477.5" width="9" height="8" fill="#0000FF" stroke="#000"/>
<rect x="1005.5" y="493.5" width="9" height="8" fill="#FFFF00" stroke="#000"/>
<text x="1026.2" y="486.5" textLength="127" lengthAdjust="spacingAndGlyphs">AVID return frequency</text>
<text x="1026.2" y="502.4" textLength="133.8" lengthAdjust="spacingAndGlyphs">GSPC return frequency</text>
<rect x="665.5" y="465.5" width="501" height="253" fill="none" stroke="#000"/>
<text class="t" x="914.2" y="439.7" text-anchor="middle" textLength="380.3" lengthAdjust="spacingAndGlyphs">AVID versus S&amp;P500 return frequency distribution</text>
<text x="689.1" y="747.9" text-anchor="middle" textLength="84" lengthAdjust="spacingAndGlyphs">[-0.457,-0.432)</text>
<text x="781.9" y="747.9" text-anchor="middle" textLength="77" lengthAdjust="spacingAndGlyphs">[-0.306,-0.28)</text>
<text x="876.4" y="747.9" text-anchor="middle" textLength="84" lengthAdjust="spacingAndGlyphs">[-0.154,-0.129)</text>
<text x="985.75" y="747.9" text-anchor="middle" textLength="83" lengthAdjust="spacingAndGlyphs">[0.022,0.0472)</text>
<text x="1080.25" y="747.9" text-anchor="middle" textLength="76" lengthAdjust="spacingAndGlyphs">[0.173,0.198)</text>
<path d="M665.5 524.5V716.5M665.5 716.5h-8.5M665.5 652.5h-8.5M665.5 588.5h-8.5M665.5 524.5h-8.5" stroke="#000" fill="none"/>
<text transform="translate(646.9 716.7) rotate(-90)" text-anchor="middle" textLength="7" lengthAdjust="spacingAndGlyphs">0</text>
<text transform="translate(646.9 652.8) rotate(-90)" text-anchor="middle" textLength="28" lengthAdjust="spacingAndGlyphs">1000</text>
<text transform="translate(646.9 588.9) rotate(-90)" text-anchor="middle" textLength="28" lengthAdjust="spacingAndGlyphs">2000</text>
<text transform="translate(646.9 525) rotate(-90)" text-anchor="middle" textLength="28" lengthAdjust="spacingAndGlyphs">3000</text>
<text x="914.4" y="779.5" text-anchor="middle" textLength="33.5" lengthAdjust="spacingAndGlyphs">return</text>
<text transform="translate(615.5 592.9) rotate(-90)" text-anchor="middle" textLength="56.2" lengthAdjust="spacingAndGlyphs">frequency</text>
</svg>
</body></html>
